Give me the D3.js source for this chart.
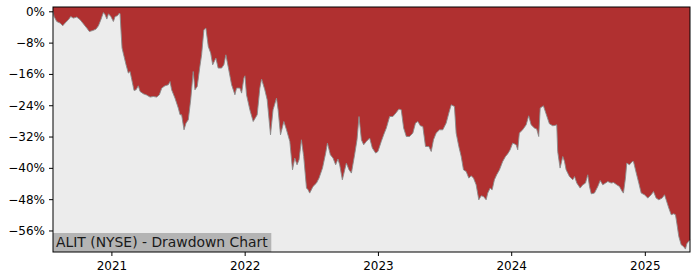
<!DOCTYPE html>
<html>
<head>
<meta charset="utf-8">
<script src="https://cdn.jsdelivr.net/npm/d3@7"></script>
<style>
  html, body { margin: 0; padding: 0; background: #ffffff; }
  svg { display: block; font-family: "DejaVu Sans", sans-serif; }
</style>
</head>
<body>
<svg id="chart" width="700" height="280"></svg>
<script>
// ---- Data (decimal year, drawdown in %) ----
const dates = [
  2020.563, 2020.571, 2020.591, 2020.616, 2020.636, 2020.653, 2020.678, 2020.696, 2020.715, 2020.741,
  2020.766, 2020.790, 2020.816, 2020.835, 2020.861, 2020.885, 2020.903, 2020.921, 2020.940, 2020.953,
  2020.966, 2020.978, 2020.996, 2021.015, 2021.028, 2021.045, 2021.060, 2021.065, 2021.073, 2021.080,
  2021.095, 2021.110, 2021.127, 2021.140, 2021.153, 2021.170, 2021.185, 2021.202, 2021.215, 2021.240,
  2021.265, 2021.290, 2021.315, 2021.340, 2021.360, 2021.378, 2021.402, 2021.427, 2021.440, 2021.452,
  2021.477, 2021.502, 2021.515, 2021.527, 2021.545, 2021.560, 2021.577, 2021.595, 2021.614, 2021.627,
  2021.644, 2021.664, 2021.677, 2021.694, 2021.709, 2021.727, 2021.745, 2021.760, 2021.784, 2021.801,
  2021.827, 2021.844, 2021.859, 2021.876, 2021.902, 2021.927, 2021.939, 2021.964, 2021.977, 2021.994,
  2022.002, 2022.014, 2022.039, 2022.064, 2022.094, 2022.114, 2022.127, 2022.151, 2022.169, 2022.194,
  2022.213, 2022.239, 2022.251, 2022.269, 2022.294, 2022.314, 2022.339, 2022.359, 2022.376, 2022.393,
  2022.408, 2022.426, 2022.443, 2022.464, 2022.476, 2022.488, 2022.513, 2022.539, 2022.558, 2022.584,
  2022.608, 2022.621, 2022.643, 2022.663, 2022.683, 2022.700, 2022.713, 2022.733, 2022.763, 2022.783,
  2022.801, 2022.825, 2022.843, 2022.858, 2022.876, 2022.893, 2022.913, 2022.938, 2022.958, 2022.983,
  2023.000, 2023.025, 2023.043, 2023.063, 2023.088, 2023.112, 2023.138, 2023.157, 2023.175, 2023.193,
  2023.213, 2023.237, 2023.262, 2023.282, 2023.300, 2023.318, 2023.337, 2023.357, 2023.382, 2023.400,
  2023.417, 2023.437, 2023.462, 2023.487, 2023.512, 2023.532, 2023.550, 2023.574, 2023.587, 2023.607,
  2023.625, 2023.642, 2023.662, 2023.682, 2023.700, 2023.717, 2023.737, 2023.757, 2023.775, 2023.792,
  2023.812, 2023.824, 2023.842, 2023.857, 2023.874, 2023.891, 2023.912, 2023.936, 2023.957, 2023.974,
  2023.992, 2024.011, 2024.037, 2024.049, 2024.061, 2024.086, 2024.112, 2024.131, 2024.149, 2024.174,
  2024.191, 2024.206, 2024.217, 2024.241, 2024.261, 2024.286, 2024.311, 2024.331, 2024.341, 2024.348,
  2024.366, 2024.386, 2024.399, 2024.411, 2024.436, 2024.461, 2024.474, 2024.491, 2024.516, 2024.536,
  2024.556, 2024.573, 2024.586, 2024.599, 2024.623, 2024.648, 2024.666, 2024.685, 2024.706, 2024.723,
  2024.748, 2024.766, 2024.790, 2024.810, 2024.831, 2024.840, 2024.855, 2024.865, 2024.885, 2024.906,
  2024.915, 2024.936, 2024.955, 2024.973, 2024.998, 2025.022, 2025.048, 2025.065, 2025.085, 2025.105,
  2025.130, 2025.148, 2025.160, 2025.180, 2025.198, 2025.217, 2025.230, 2025.240, 2025.255, 2025.273,
  2025.290, 2025.305, 2025.315, 2025.328, 2025.339
];
const drawdown = [
  0.00, -1.33, -2.61, -3.01, -3.70, -3.01, -2.17, -1.33, -1.74, -1.48,
  -2.17, -3.19, -4.29, -5.16, -4.91, -4.55, -3.70, -2.17, -0.31, -0.89,
  -1.99, -0.64, -1.33, -2.61, -1.33, -1.15, -0.46, -0.64, -5.57, -9.40,
  -11.55, -13.67, -15.79, -15.38, -17.50, -20.24, -20.06, -19.03, -20.49, -21.08,
  -21.41, -21.92, -21.77, -21.92, -21.33, -19.62, -19.03, -18.78, -17.94, -20.06,
  -22.18, -24.73, -26.44, -26.44, -30.28, -28.56, -27.72, -22.61, -15.38, -20.06,
  -19.21, -14.10, -11.11, -4.73, -4.29, -8.99, -10.68, -13.67, -11.96, -14.51,
  -14.51, -13.67, -11.11, -14.10, -18.78, -21.33, -19.62, -19.62, -20.90, -17.07,
  -16.48, -21.33, -25.17, -28.16, -26.44, -19.62, -17.32, -20.06, -22.61, -31.55,
  -25.17, -22.18, -25.17, -31.55, -28.16, -30.28, -33.27, -40.50, -37.51, -39.22,
  -37.94, -32.83, -37.10, -45.17, -45.61, -46.45, -44.76, -43.89, -42.62, -40.06,
  -36.23, -33.67, -36.66, -37.51, -39.22, -37.76, -39.22, -43.05, -38.78, -40.50,
  -41.34, -36.66, -32.83, -26.88, -32.83, -34.11, -33.27, -32.40, -34.95, -36.23,
  -35.82, -33.27, -31.55, -29.84, -26.88, -26.88, -25.86, -24.99, -25.17, -29.84,
  -31.99, -31.99, -31.12, -28.56, -28.16, -29.25, -29.43, -34.54, -34.54, -35.82,
  -32.83, -31.12, -30.28, -30.28, -28.56, -26.01, -23.89, -24.32, -31.12, -34.54,
  -37.10, -40.50, -40.93, -42.62, -42.03, -42.62, -44.33, -48.16, -47.14, -47.32,
  -48.16, -46.45, -45.17, -45.61, -43.05, -41.77, -40.50, -38.38, -37.10, -36.41,
  -35.39, -33.67, -34.11, -35.39, -31.12, -30.28, -29.00, -26.70, -29.00, -29.84,
  -30.10, -31.99, -24.73, -24.14, -26.19, -28.74, -29.25, -29.13, -29.00, -35.82,
  -40.06, -37.10, -38.38, -40.50, -42.21, -43.05, -42.21, -43.89, -45.17, -44.33,
  -43.89, -41.77, -44.76, -46.63, -46.45, -44.76, -43.23, -44.33, -43.89, -43.49,
  -43.89, -43.74, -44.33, -44.76, -46.04, -46.45, -42.62, -38.78, -39.22, -38.38,
  -38.38, -41.34, -43.89, -46.45, -46.88, -47.73, -46.88, -46.04, -47.73, -48.16,
  -47.73, -46.88, -48.16, -50.28, -51.99, -51.74, -51.99, -54.11, -57.54, -59.66,
  -60.09, -60.76, -59.41, -58.81, -58.38
];
const yTickValues = [0, -8, -16, -24, -32, -40, -48, -56];
const xTickYears = [2021, 2022, 2023, 2024, 2025];
const yDomain = [1.1, -61.5];
const title = "ALIT (NYSE) - Drawdown Chart";

// ---- Helpers ----
function fromDecimalYear(v) {
  const y = Math.floor(v);
  const s = Date.UTC(y, 0, 1), e = Date.UTC(y + 1, 0, 1);
  return new Date(s + (v - y) * (e - s));
}
const data = dates.map((d, i) => ({ date: fromDecimalYear(d), value: drawdown[i] }));

// ---- Layout ----
const margin = { left: 53, top: 7, right: 10, bottom: 28 };
const W = 700, H = 280;
const iw = W - margin.left - margin.right;
const ih = H - margin.top - margin.bottom;

const svg = d3.select("#chart");
const g = svg.append("g").attr("transform", `translate(${margin.left},${margin.top})`);

const x = d3.scaleUtc()
  .domain([data[0].date, data[data.length - 1].date])
  .range([0, iw]);
const y = d3.scaleLinear().domain(yDomain).range([0, ih]);

// background
g.append("rect").attr("width", iw).attr("height", ih).attr("fill", "#ececec");

// red drawdown area (from curve up to top of plot)
const area = d3.area()
  .x(d => x(d.date))
  .y0(0)
  .y1(d => y(d.value));
g.append("path").datum(data).attr("d", area).attr("fill", "#b03030");

// outline
const line = d3.line().x(d => x(d.date)).y(d => y(d.value));
g.append("path").datum(data).attr("d", line)
  .attr("fill", "none").attr("stroke", "#8a8a8a").attr("stroke-width", 0.9);

// title box
const tg = g.append("g");
const tText = tg.append("text")
  .attr("x", 3).attr("y", ih - 5)
  .attr("font-size", 13.9).attr("fill", "#1a1a1a")
  .text(title);
const bb = tText.node().getBBox();
tg.insert("rect", "text")
  .attr("x", 0).attr("y", ih - 19)
  .attr("width", bb.width + 6).attr("height", 19)
  .attr("fill", "#b4b4b4");

// frame
g.append("rect").attr("width", iw).attr("height", ih)
  .attr("fill", "none").attr("stroke", "#000").attr("stroke-width", 1);

// axes
const yAxis = d3.axisLeft(y)
  .tickValues(yTickValues)
  .tickSize(4).tickPadding(4)
  .tickFormat(v => v === 0 ? "0%" : "\u2212" + Math.abs(v) + "%");
const ya = g.append("g").call(yAxis);
ya.select(".domain").remove();
ya.selectAll("text").attr("font-size", 12).attr("fill", "#000").attr("font-family", "DejaVu Sans");
ya.selectAll("line").attr("stroke", "#000");

const xAxis = d3.axisBottom(x)
  .tickValues(xTickYears.map(yv => new Date(Date.UTC(yv, 0, 1))))
  .tickSize(4).tickPadding(5)
  .tickFormat(d3.utcFormat("%Y"));
const xa = g.append("g").attr("transform", `translate(0,${ih})`).call(xAxis);
xa.select(".domain").remove();
xa.selectAll("text").attr("font-size", 12).attr("fill", "#000").attr("font-family", "DejaVu Sans");
xa.selectAll("line").attr("stroke", "#000");
</script>
</body>
</html>
